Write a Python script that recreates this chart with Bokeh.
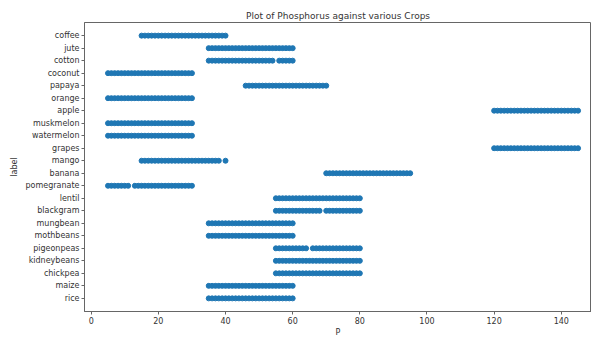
from bokeh.plotting import figure
from bokeh.models import Range1d, FixedTicker, ColumnDataSource
from bokeh.embed import file_html
from bokeh.resources import INLINE

# categories, bottom to top
crops = ["rice", "maize", "chickpea", "kidneybeans", "pigeonpeas", "mothbeans",
         "mungbean", "blackgram", "lentil", "pomegranate", "banana", "mango",
         "grapes", "watermelon", "muskmelon", "apple", "orange", "papaya",
         "coconut", "cotton", "jute", "coffee"]

p_rice = [35, 36, 37, 38, 39, 40, 41, 42, 43, 44, 45, 46, 47, 48, 49, 50, 51, 52, 53, 54, 55, 56, 57, 58, 59, 60]
p_maize = [35, 36, 37, 38, 39, 40, 41, 42, 43, 44, 45, 46, 47, 48, 49, 50, 51, 52, 53, 54, 55, 56, 57, 58, 59, 60]
p_chickpea = [55, 56, 57, 58, 59, 60, 61, 62, 63, 64, 65, 66, 67, 68, 69, 70, 71, 72, 73, 74, 75, 76, 77, 78, 79, 80]
p_kidneybeans = [55, 56, 57, 58, 59, 60, 61, 62, 63, 64, 65, 66, 67, 68, 69, 70, 71, 72, 73, 74, 75, 76, 77, 78, 79, 80]
p_pigeonpeas = [55, 56, 57, 58, 59, 60, 61, 62, 63, 64, 66, 67, 68, 69, 70, 71, 72, 73, 74, 75, 76, 77, 78, 79, 80]
p_mothbeans = [35, 36, 37, 38, 39, 40, 41, 42, 43, 44, 45, 46, 47, 48, 49, 50, 51, 52, 53, 54, 55, 56, 57, 58, 59, 60]
p_mungbean = [35, 36, 37, 38, 39, 40, 41, 42, 43, 44, 45, 46, 47, 48, 49, 50, 51, 52, 53, 54, 55, 56, 57, 58, 59, 60]
p_blackgram = [55, 56, 57, 58, 59, 60, 61, 62, 63, 64, 65, 66, 67, 68, 70, 71, 72, 73, 74, 75, 76, 77, 78, 79, 80]
p_lentil = [55, 56, 57, 58, 59, 60, 61, 62, 63, 64, 65, 66, 67, 68, 69, 70, 71, 72, 73, 74, 75, 76, 77, 78, 79, 80]
p_pomegranate = [5, 6, 7, 8, 9, 10, 11, 13, 14, 15, 16, 17, 18, 19, 20, 21, 22, 23, 24, 25, 26, 27, 28, 29, 30]
p_banana = [70, 71, 72, 73, 74, 75, 76, 77, 78, 79, 80, 81, 82, 83, 84, 85, 86, 87, 88, 89, 90, 91, 92, 93, 94, 95]
p_mango = [15, 16, 17, 18, 19, 20, 21, 22, 23, 24, 25, 26, 27, 28, 29, 30, 31, 32, 33, 34, 35, 36, 37, 38, 40]
p_grapes = [120, 121, 122, 123, 124, 125, 126, 127, 128, 129, 130, 131, 132, 133, 134, 135, 136, 137, 138, 139, 140, 141, 142, 143, 144, 145]
p_watermelon = [5, 6, 7, 8, 9, 10, 11, 12, 13, 14, 15, 16, 17, 18, 19, 20, 21, 22, 23, 24, 25, 26, 27, 28, 29, 30]
p_muskmelon = [5, 6, 7, 8, 9, 10, 11, 12, 13, 14, 15, 16, 17, 18, 19, 20, 21, 22, 23, 24, 25, 26, 27, 28, 29, 30]
p_apple = [120, 121, 122, 123, 124, 125, 126, 127, 128, 129, 130, 131, 132, 133, 134, 135, 136, 137, 138, 139, 140, 141, 142, 143, 144, 145]
p_orange = [5, 6, 7, 8, 9, 10, 11, 12, 13, 14, 15, 16, 17, 18, 19, 20, 21, 22, 23, 24, 25, 26, 27, 28, 29, 30]
p_papaya = [46, 47, 48, 49, 50, 51, 52, 53, 54, 55, 56, 57, 58, 59, 60, 61, 62, 63, 64, 65, 66, 67, 68, 69, 70]
p_coconut = [5, 6, 7, 8, 9, 10, 11, 12, 13, 14, 15, 16, 17, 18, 19, 20, 21, 22, 23, 24, 25, 26, 27, 28, 29, 30]
p_cotton = [35, 36, 37, 38, 39, 40, 41, 42, 43, 44, 45, 46, 47, 48, 49, 50, 51, 52, 53, 54, 56, 57, 58, 59, 60]
p_jute = [35, 36, 37, 38, 39, 40, 41, 42, 43, 44, 45, 46, 47, 48, 49, 50, 51, 52, 53, 54, 55, 56, 57, 58, 59, 60]
p_coffee = [15, 16, 17, 18, 19, 20, 21, 22, 23, 24, 25, 26, 27, 28, 29, 30, 31, 32, 33, 34, 35, 36, 37, 38, 39, 40]

series = [p_rice, p_maize, p_chickpea, p_kidneybeans, p_pigeonpeas, p_mothbeans,
          p_mungbean, p_blackgram, p_lentil, p_pomegranate, p_banana, p_mango,
          p_grapes, p_watermelon, p_muskmelon, p_apple, p_orange, p_papaya,
          p_coconut, p_cotton, p_jute, p_coffee]

x_ticks = [0, 20, 40, 60, 80, 100, 120, 140]

xs, ys = [], []
for i, vals in enumerate(series):
    xs += vals
    ys += [i] * len(vals)
src = ColumnDataSource(dict(x=xs, y=ys))

FONT = "DejaVu Sans"
p = figure(width=591, height=340, output_backend="svg", toolbar_location=None,
           x_range=Range1d(-2, 149), y_range=Range1d(-1.05, len(crops) - 1 + 1.05),
           title="Plot of Phosphorus against various Crops",
           min_border_left=84, min_border_right=0, min_border_top=22, min_border_bottom=29)

p.title.align = "center"
p.title.text_font = FONT
p.title.text_font_size = "9px"
p.title.text_font_style = "normal"
p.title.text_color = "#333"
p.title.standoff = 4
p.title.offset = 4

p.scatter("x", "y", source=src, size=5, fill_color="#1f77b4", line_color="#1f77b4")

p.xgrid.visible = False
p.ygrid.visible = False
p.outline_line_color = "#666"

p.xaxis.ticker = FixedTicker(ticks=x_ticks)
p.yaxis.ticker = FixedTicker(ticks=list(range(len(crops))))
p.yaxis.major_label_overrides = {i: c for i, c in enumerate(crops)}

for ax in (p.xaxis, p.yaxis):
    ax.axis_line_color = "#666"
    ax.major_tick_line_color = "#666"
    ax.major_tick_out = 3
    ax.major_tick_in = 0
    ax.minor_tick_line_color = None
    ax.major_label_text_font = FONT
    ax.major_label_text_font_size = "8px"
    ax.major_label_text_color = "#333"
    ax.major_label_standoff = 2
    ax.axis_label_text_font = FONT
    ax.axis_label_text_font_size = "8px"
    ax.axis_label_text_font_style = "normal"
    ax.axis_label_text_color = "#333"

p.xaxis.axis_label = "P"
p.yaxis.axis_label = "label"
p.xaxis.axis_label_standoff = 1
p.yaxis.axis_label_standoff = 4

open("out.html", "w").write(file_html(p, INLINE))
